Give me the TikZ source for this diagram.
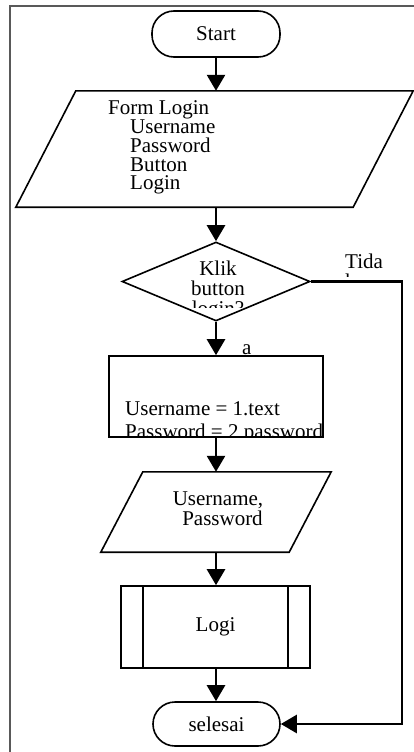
\documentclass[tikz,border=0pt]{standalone}
\usepackage{fontspec}
\setmainfont{Liberation Serif}
\usetikzlibrary{shapes.geometric,arrows.meta}

\begin{document}
\begin{tikzpicture}[x=1pt,y=-1pt,
  every node/.style={font=\fontsize{21}{19}\selectfont},
  shape line/.style={draw=black,line width=1.6pt},
  term/.style={shape line, rectangle, rounded corners=22pt, inner sep=0pt},
  box/.style={shape line, rectangle, inner sep=0pt},
  slot/.style={rectangle, inner sep=0pt},
  decision/.style={shape line, diamond, inner sep=0pt},
  flow/.style={line width=2.6pt, -{Triangle[length=16pt,width=18pt]}},
  lbl/.style={inner sep=0pt, anchor=base west},
  ctr/.style={inner sep=0pt, anchor=base},
]
\useasboundingbox (0,0) rectangle (414,752);

% page frame
\draw[black!65, line width=1.4pt] (10,752) -- (10,6) -- (414,6);

% start
\node[term, minimum width=128pt, minimum height=46pt] (start) at (216,34) {Start};

% input form
\node[slot, minimum width=337pt, minimum height=116pt] (form) at (214.5,149) {};
\draw[shape line] ([xshift=30pt]form.north west) -- ([xshift=30pt]form.north east)
  -- ([xshift=-30pt]form.south east) -- ([xshift=-30pt]form.south west) -- cycle;
\node[lbl] (f1) at (108,114.5) {Form Login};
\node[lbl] (f2) at (130,133) {Username};
\node[lbl] (f3) at (130,152) {Password};
\node[lbl] (f4) at (130,171) {Button};
\node[lbl] (f5) at (130,189.5) {Login};

% decision
\node[decision, minimum width=188pt, minimum height=79pt] (dec) at (216,281.5) {};
\begin{scope}
  \clip (150,250) rectangle (290,307);
  \node[ctr] (d1) at (218,275) {Klik};
  \node[ctr] (d2) at (218,295) {button};
  \node[ctr] (d3) at (218,315) {login?};
\end{scope}

% assignment
\node[box, minimum width=214pt, minimum height=81pt] (assign) at (216,396.5) {};
\begin{scope}
  \clip (assign.north west) rectangle (assign.south east);
  \node[lbl] (a1) at (125,415) {Username = 1.text};
  \node[lbl] (a2) at (125,438) {Password = 2 password};
\end{scope}

% input data
\node[slot, minimum width=188pt, minimum height=80pt] (inp) at (216,512) {};
\draw[shape line] ([xshift=21pt]inp.north west) -- ([xshift=21pt]inp.north east)
  -- ([xshift=-21pt]inp.south east) -- ([xshift=-21pt]inp.south west) -- cycle;
\node[ctr] (i1) at (218,505) {Username,};
\node[ctr] (i2) at (222.5,525) {Password};

% predefined process
\node[box, minimum width=189pt, minimum height=82pt] (sub) at (215.5,627) {Logi};
\draw[shape line] ([xshift=23pt]sub.north west) -- ([xshift=23pt]sub.south west);
\draw[shape line] ([xshift=-23pt]sub.north east) -- ([xshift=-23pt]sub.south east);

% end
\node[term, minimum width=127pt, minimum height=44pt] (stop) at (216.5,724) {selesai};

% connectors
\draw[flow] (start.south) -- (start.south |- form.north);
\draw[flow] (dec.north |- form.south) -- (dec.north);
\draw[flow] (dec.south) -- (assign.north);
\draw[flow] (assign.south) -- (inp.north);
\draw[flow] (inp.south) -- (inp.south |- sub.north);
\draw[flow] (inp.south |- sub.south) -- (inp.south |- stop.north);
\coordinate (turn) at (402,0);
\draw[flow] (dec.east) -- (dec.east -| turn) |- (stop.east);

% branch labels
\node[lbl] (yes) at (242,354) {a};
\begin{scope}
  \clip (340,245) rectangle (400,276);
  \node[lbl] (no1) at (345,268) {Tida};
  \node[lbl] (no2) at (345,288) {k};
\end{scope}
\end{tikzpicture}
\end{document}
